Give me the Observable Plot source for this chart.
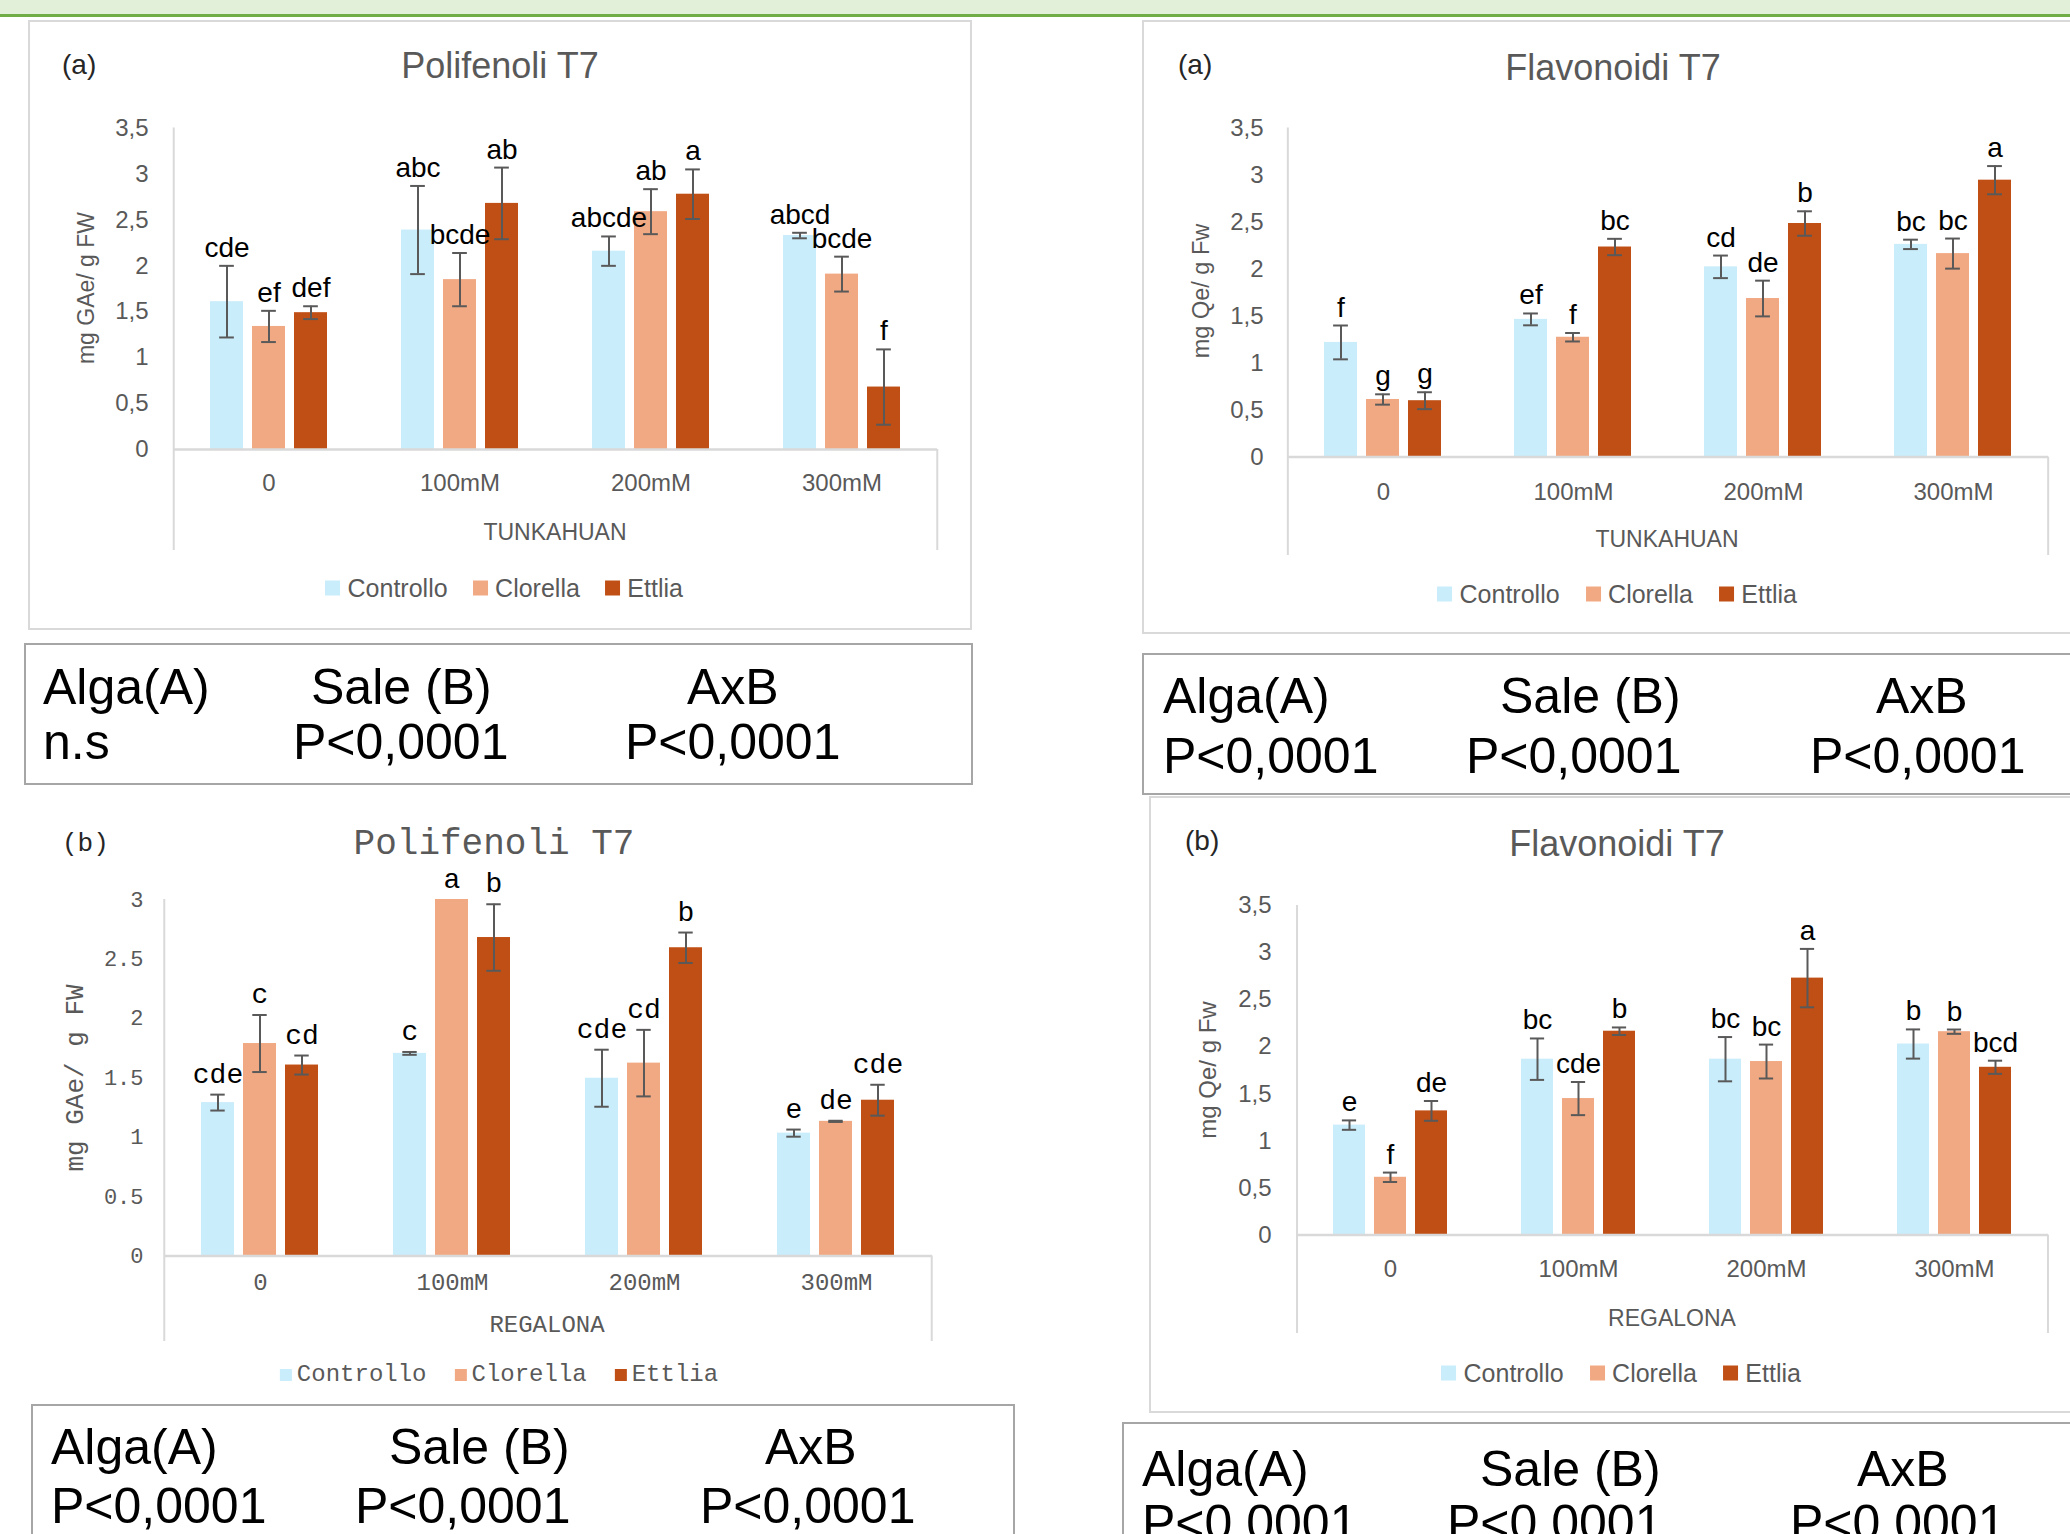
<!DOCTYPE html>
<html><head><meta charset="utf-8">
<script src="https://cdn.jsdelivr.net/npm/d3@7"></script>
<script src="https://cdn.jsdelivr.net/npm/@observablehq/plot@0.6"></script>
<style>
html,body{margin:0;padding:0;background:#fff;}
#page{position:relative;width:2070px;height:1534px;overflow:hidden;background:#fff;}
.abs{position:absolute;white-space:nowrap;line-height:1;}
.c{transform:translate(-50%,-50%);}
.l{transform:translateY(-50%);}
.rot{transform:translate(-50%,-50%) rotate(-90deg);}
.box{position:absolute;box-sizing:border-box;}
</style></head><body><div id="page"></div>
<script>
// ---------- data ----------
const categories = ["0", "100mM", "200mM", "300mM"];
const series = ["Controllo", "Clorella", "Ettlia"];
const seriesColors = ["#CAEDFB", "#F1A983", "#C04F15"];

// (a) Polifenoli T7 – TUNKAHUAN
const polA_controllo = [1.61, 2.39, 2.16, 2.33];
const polA_clorella  = [1.34, 1.85, 2.59, 1.91];
const polA_ettlia    = [1.49, 2.68, 2.78, 0.68];
const polA_err_controllo = [0.39, 0.48, 0.16, 0.03];
const polA_err_clorella  = [0.17, 0.29, 0.245, 0.19];
const polA_err_ettlia    = [0.07, 0.39, 0.27, 0.41];
const polA_lab_controllo = ["cde", "abc", "abcde", "abcd"];
const polA_lab_clorella  = ["ef", "bcde", "ab", "bcde"];
const polA_lab_ettlia    = ["def", "ab", "a", "f"];

// (a) Flavonoidi T7 – TUNKAHUAN
const flaA_controllo = [1.22, 1.465, 2.024, 2.263];
const flaA_clorella  = [0.613, 1.275, 1.687, 2.165];
const flaA_ettlia    = [0.60, 2.235, 2.485, 2.946];
const flaA_err_controllo = [0.18, 0.063, 0.12, 0.05];
const flaA_err_clorella  = [0.055, 0.045, 0.19, 0.16];
const flaA_err_ettlia    = [0.09, 0.087, 0.13, 0.15];
const flaA_lab_controllo = ["f", "ef", "cd", "bc"];
const flaA_lab_clorella  = ["g", "f", "de", "bc"];
const flaA_lab_ettlia    = ["g", "bc", "b", "a"];

// (b) Polifenoli T7 – REGALONA
const polB_controllo = [1.291, 1.705, 1.496, 1.034];
const polB_clorella  = [1.788, 3.0, 1.623, 1.133];
const polB_ettlia    = [1.607, 2.68, 2.594, 1.311];
const polB_err_controllo = [0.067, 0.012, 0.24, 0.03];
const polB_err_clorella  = [0.24, 0, 0.28, 0.005];
const polB_err_ettlia    = [0.08, 0.28, 0.128, 0.13];
const polB_lab_controllo = ["cde", "c", "cde", "e"];
const polB_lab_clorella  = ["c", "a", "cd", "de"];
const polB_lab_ettlia    = ["cd", "b", "b", "cde"];

// (b) Flavonoidi T7 – REGALONA
const flaB_controllo = [1.168, 1.868, 1.868, 2.029];
const flaB_clorella  = [0.614, 1.45, 1.843, 2.16];
const flaB_ettlia    = [1.319, 2.165, 2.729, 1.782];
const flaB_err_controllo = [0.05, 0.22, 0.235, 0.155];
const flaB_err_clorella  = [0.05, 0.176, 0.18, 0.023];
const flaB_err_ettlia    = [0.105, 0.04, 0.31, 0.07];
const flaB_lab_controllo = ["e", "bc", "bc", "b"];
const flaB_lab_clorella  = ["f", "cde", "bc", "b"];
const flaB_lab_ettlia    = ["de", "b", "a", "bcd"];

const yTicksA = [0, 0.5, 1, 1.5, 2, 2.5, 3, 3.5];
const yTicksB1 = [0, 0.5, 1, 1.5, 2, 2.5, 3];

const statHeads = ["Alga(A)", "Sale (B)", "AxB"];
const statsPolA = ["n.s", "P<0,0001", "P<0,0001"];
const statsFlaA = ["P<0,0001", "P<0,0001", "P<0,0001"];
const statsPolB = ["P<0,0001", "P<0,0001", "P<0,0001"];
const statsFlaB = ["P<0,0001", "P<0,0001", "P<0,0001"];

// ---------- styles ----------
const SANS = "'Liberation Sans', Arial, sans-serif";
const MONO = "'Liberation Mono', 'Courier New', monospace";
const GRAY = "#595959", LINE = "#d9d9d9", ERR = "#595959";
const PI = 0.213, PO = 0.866;

const page = document.getElementById("page");
function el(tag, css, cls, txt) {
  const e = document.createElement(tag);
  if (cls) e.className = cls;
  Object.assign(e.style, css);
  if (txt != null) e.textContent = txt;
  page.appendChild(e);
  return e;
}
function text(t, x, y, mode, css) {
  return el("div", Object.assign({left: x + "px", top: y + "px"}, css), "abs " + mode, t);
}
function box(l, t, w, h, border) {
  el("div", {left: l + "px", top: t + "px", width: w + "px", height: h + "px", border}, "box");
}

// green band at top
el("div", {left: "0px", top: "0px", width: "2070px", height: "14px", background: "#e2efd9"}, "box");
el("div", {left: "0px", top: "14px", width: "2070px", height: "2.5px", background: "#70ad47"}, "box");

function buildRows(vals, errs, labs) {
  const rows = [];
  categories.forEach((c, i) => series.forEach((s, j) =>
    rows.push({cat: c, s, v: vals[j][i], e: errs[j][i], lab: labs[j][i]})));
  return rows;
}

function drawChart(cfg) {
  const {rows, g, font, yMax, ticks, fmt, tickFs, catFs, labFs, labGap, capRatio} = cfg;
  const ml = g.x0 - g.L, mr = g.L + g.W - g.x1, mt = g.yTop - g.T, mb = g.T + g.H - g.yBase;
  const facetW = (g.x1 - g.x0) / categories.length;
  const xb = d3.scaleBand(series, [0, facetW]).paddingInner(PI).paddingOuter(PO);
  const half = xb.bandwidth() / 2;
  const leftDx = -(xb(series[0]) + half);
  const rightDx = facetW - xb(series[series.length - 1]) - half;
  const yFloor = -(g.floorPx - g.yBase) / (g.yBase - g.yTop) * yMax;
  const capInset = (xb.bandwidth() - 15) / 2;
  const errRows = rows.filter(d => d.e > 0);
  const edgeL = [{cat: categories[0], s: series[0]}];
  const edgeR = [{cat: categories[categories.length - 1], s: series[series.length - 1]}];
  const svg = Plot.plot({
    width: g.W, height: g.H,
    marginLeft: ml, marginRight: mr, marginTop: mt, marginBottom: mb,
    style: {fontFamily: font, background: "none", overflow: "visible"},
    fx: {domain: categories, padding: 0},
    x: {domain: series, paddingInner: PI, paddingOuter: PO, axis: null},
    y: {domain: [0, yMax]},
    color: {domain: series, range: seriesColors},
    marks: [
      Plot.barY(rows, {fx: "cat", x: "s", y: "v", fill: "s"}),
      Plot.ruleY([0], {stroke: LINE, strokeWidth: 2.5}),
      Plot.ruleX(edgeL, {fx: "cat", x: "s", y1: yFloor, y2: yMax, dx: leftDx, stroke: LINE, strokeWidth: 2}),
      Plot.ruleX(edgeR, {fx: "cat", x: "s", y1: yFloor, y2: 0, dx: rightDx, stroke: LINE, strokeWidth: 2}),
      Plot.ruleX(errRows, {fx: "cat", x: "s", y1: d => d.v - d.e, y2: d => d.v + d.e, stroke: ERR, strokeWidth: 2}),
      Plot.tickY(errRows, {fx: "cat", x: "s", y: d => d.v + d.e, insetLeft: capInset, insetRight: capInset, stroke: ERR, strokeWidth: 2}),
      Plot.tickY(errRows, {fx: "cat", x: "s", y: d => d.v - d.e, insetLeft: capInset, insetRight: capInset, stroke: ERR, strokeWidth: 2}),
      Plot.text(rows, {fx: "cat", x: "s", y: d => d.v + d.e, text: "lab", lineAnchor: "bottom", dy: -labGap, fontSize: labFs, fill: "#000"}),
      Plot.axisY({ticks, tickSize: 0, tickPadding: g.x0 - g.tickRight, tickFormat: fmt, fontSize: tickFs, color: GRAY, label: null}),
      Plot.axisFx({anchor: "bottom", tickSize: 0, tickPadding: g.catY - g.yBase - capRatio * catFs, fontSize: catFs, color: GRAY, label: null})
    ]
  });
  const holder = el("div", {left: g.L + "px", top: g.T + "px"}, "abs");
  holder.appendChild(svg);
}

function legend(cx, cy, o) {
  const wrap = el("div", {left: cx + "px", top: cy + "px", display: "flex", alignItems: "center",
    fontFamily: o.font, fontSize: o.fs + "px", color: GRAY}, "abs c");
  series.forEach((s, i) => {
    const it = document.createElement("div");
    Object.assign(it.style, {display: "flex", alignItems: "center", marginLeft: i ? o.gapItem + "px" : "0px"});
    const sw = document.createElement("span");
    Object.assign(sw.style, {display: "inline-block", width: o.sq + "px", height: o.sq + "px", background: seriesColors[i], marginRight: o.gapText + "px"});
    const tx = document.createElement("span");
    tx.textContent = s;
    it.appendChild(sw); it.appendChild(tx);
    wrap.appendChild(it);
  });
}

function stats(b, vals, colsHead, colsVal, y1, y2) {
  box(b.l, b.t, b.w, b.h, "2.5px solid #a6a6a6");
  const css = {fontFamily: SANS, fontSize: "50px", color: "#000"};
  statHeads.forEach((h, i) => text(h, colsHead[i], y1, "l", css));
  vals.forEach((v, i) => text(v, colsVal[i], y2, "l", css));
}

const commaFmt = d => String(d).replace(".", ",");
const dotFmt = d => String(d);

// ---------- panel (a) Polifenoli ----------
box(28, 20, 944, 610, "2px solid " + LINE);
text("(a)", 62, 65, "l", {fontFamily: SANS, fontSize: "28px", color: "#262626"});
text("Polifenoli T7", 500, 66, "c", {fontFamily: SANS, fontSize: "36px", color: GRAY});
text("mg GAe/ g FW", 86, 288, "rot", {fontFamily: SANS, fontSize: "23px", color: GRAY});
text("TUNKAHUAN", 555, 532, "c", {fontFamily: SANS, fontSize: "23px", color: GRAY});
drawChart({
  rows: buildRows([polA_controllo, polA_clorella, polA_ettlia], [polA_err_controllo, polA_err_clorella, polA_err_ettlia], [polA_lab_controllo, polA_lab_clorella, polA_lab_ettlia]),
  g: {L: 30, T: 25, W: 940, H: 540, x0: 173, x1: 937.5, yTop: 127.6, yBase: 449, floorPx: 550, tickRight: 148, catY: 482},
  font: SANS, yMax: 3.5, ticks: yTicksA, fmt: commaFmt, tickFs: 24, catFs: 24, labFs: 28, labGap: 9, capRatio: 0.352
});
legend(504, 588, {font: SANS, fs: 25, sq: 15, gapText: 7.5, gapItem: 25});
stats({l: 24, t: 643, w: 949, h: 142}, statsPolA, [43, 311, 687], [43, 293, 625], 687, 742);

// ---------- panel (a) Flavonoidi ----------
box(1142, 20, 940, 614, "2px solid " + LINE);
text("(a)", 1178, 65, "l", {fontFamily: SANS, fontSize: "28px", color: "#262626"});
text("Flavonoidi T7", 1613, 68, "c", {fontFamily: SANS, fontSize: "36px", color: GRAY});
text("mg Qe/ g Fw", 1202, 291, "rot", {fontFamily: SANS, fontSize: "23.5px", color: GRAY});
text("TUNKAHUAN", 1667, 539, "c", {fontFamily: SANS, fontSize: "23px", color: GRAY});
drawChart({
  rows: buildRows([flaA_controllo, flaA_clorella, flaA_ettlia], [flaA_err_controllo, flaA_err_clorella, flaA_err_ettlia], [flaA_lab_controllo, flaA_lab_clorella, flaA_lab_ettlia]),
  g: {L: 1150, T: 25, W: 915, H: 545, x0: 1286, x1: 2049, yTop: 127.6, yBase: 456.6, floorPx: 555, tickRight: 1261, catY: 491},
  font: SANS, yMax: 3.5, ticks: yTicksA, fmt: commaFmt, tickFs: 24, catFs: 24, labFs: 28, labGap: 9, capRatio: 0.352
});
legend(1617, 594, {font: SANS, fs: 25, sq: 15, gapText: 7.5, gapItem: 26});
stats({l: 1142, t: 652.5, w: 940, h: 142.5}, statsFlaA, [1163, 1500, 1876], [1163, 1466, 1810], 696, 755.5);

// ---------- panel (b) Polifenoli ----------
text("(b)", 62, 843.5, "l", {fontFamily: MONO, fontSize: "26px", color: "#262626"});
text("Polifenoli T7", 494, 844.5, "c", {fontFamily: MONO, fontSize: "36px", color: GRAY});
text("mg GAe/ g FW", 76, 1078, "rot", {fontFamily: MONO, fontSize: "26px", color: GRAY});
text("REGALONA", 547, 1326, "c", {fontFamily: MONO, fontSize: "24px", color: GRAY});
drawChart({
  rows: buildRows([polB_controllo, polB_clorella, polB_ettlia], [polB_err_controllo, polB_err_clorella, polB_err_ettlia], [polB_lab_controllo, polB_lab_clorella, polB_lab_ettlia]),
  g: {L: 30, T: 870, W: 920, H: 490, x0: 162, x1: 933, yTop: 899, yBase: 1255.5, floorPx: 1341, tickRight: 141, catY: 1282},
  font: MONO, yMax: 3, ticks: yTicksB1, fmt: dotFmt, tickFs: 22, catFs: 24, labFs: 28, labGap: 12, capRatio: 0.38
});
legend(499, 1375, {font: MONO, fs: 24, sq: 12, gapText: 5, gapItem: 28});
stats({l: 31, t: 1404, w: 984, h: 200}, statsPolB, [51, 389, 765], [51, 355, 700], 1447, 1506);

// ---------- panel (b) Flavonoidi ----------
box(1149, 795.5, 930, 617, "2px solid " + LINE);
text("(b)", 1185, 841, "l", {fontFamily: SANS, fontSize: "28px", color: "#262626"});
text("Flavonoidi T7", 1617, 844, "c", {fontFamily: SANS, fontSize: "36px", color: GRAY});
text("mg Qe/ g Fw", 1208, 1070, "rot", {fontFamily: SANS, fontSize: "24px", color: GRAY});
text("REGALONA", 1672, 1318, "c", {fontFamily: SANS, fontSize: "23px", color: GRAY});
drawChart({
  rows: buildRows([flaB_controllo, flaB_clorella, flaB_ettlia], [flaB_err_controllo, flaB_err_clorella, flaB_err_ettlia], [flaB_lab_controllo, flaB_lab_clorella, flaB_lab_ettlia]),
  g: {L: 1155, T: 880, W: 910, H: 470, x0: 1295, x1: 2048, yTop: 905, yBase: 1234.6, floorPx: 1333, tickRight: 1270, catY: 1268},
  font: SANS, yMax: 3.5, ticks: yTicksA, fmt: commaFmt, tickFs: 24, catFs: 24, labFs: 28, labGap: 9, capRatio: 0.352
});
legend(1621, 1373, {font: SANS, fs: 25, sq: 15, gapText: 7.5, gapItem: 26});
stats({l: 1121.5, t: 1421.5, w: 960, h: 200}, statsFlaB, [1142, 1480, 1857], [1142, 1447, 1790], 1468.5, 1523);
</script></body></html>
